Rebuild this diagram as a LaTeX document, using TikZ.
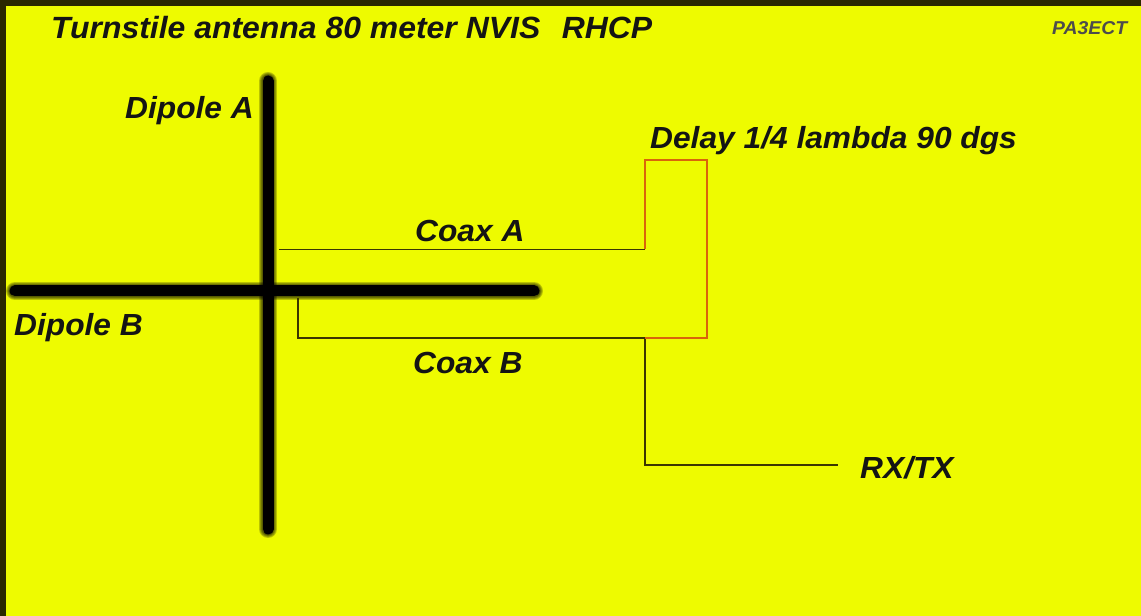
\documentclass[tikz,border=0pt]{standalone}
\usepackage{fontspec}
\setmainfont[FakeStretch=1.04]{Liberation Sans}
\usetikzlibrary{positioning}
\definecolor{frame}{HTML}{2B2800}
\definecolor{board}{HTML}{EEFB00}
\definecolor{delayline}{HTML}{D9650A}
\definecolor{coaxline}{HTML}{3A3500}
\tikzstyle{label}=[inner sep=0,font=\fontsize{30.5}{32}\selectfont\bfseries\itshape,text=black!92]
\tikzstyle{dipole}=[line width=11,line cap=round,black]
\tikzstyle{dipoleblur}=[line cap=round,black,opacity=.22]
\tikzstyle{coax}=[line width=1.5,coaxline]
\tikzstyle{delay}=[line width=1.8,delayline,line join=miter]

\begin{document}
\begin{tikzpicture}[x=1pt,y=1pt]
	\useasboundingbox (0,0) rectangle (1141,616);
	\fill[frame] (0,0) rectangle (1141,616);
	\fill[board] (6,0) rectangle (1141,610);

	% antenna
	\coordinate (topA) at (268,535);
	\coordinate (botA) at (268,87);
	\coordinate (leftB) at (15,325);
	\coordinate (rightB) at (534,325);
	\foreach \w in {18,16,14,12.5}{
		\draw[dipoleblur,line width=\w] (topA) -- (botA);
		\draw[dipoleblur,line width=\w] (leftB) -- (rightB);
	}
	\draw[dipole] (topA) -- (botA);
	\draw[dipole] (leftB) -- (rightB);

	% feed points and junctions
	\coordinate (feedA) at (279,366.5);
	\coordinate (feedB) at (298,318);
	\coordinate (jointA) at (645,366.5);
	\coordinate (jointB) at (645,278);
	\coordinate (delayTL) at (645,456);
	\coordinate (delayTR) at (707,456);
	\coordinate (delayBR) at (707,278);
	\coordinate (rigEnd) at (838,151);

	\draw[coax] (feedA) -- (jointA);
	\draw[coax] (feedB) |- (jointB);
	\draw[coax] (jointB) |- (rigEnd);
	\draw[delay] (jointA) -- (delayTL) -- (delayTR) -- (delayBR) -- (jointB);

	% texts
	\node[label,anchor=base west,font=\fontsize{30.7}{32}\selectfont\bfseries\itshape] (title) at (51,577) {Turnstile antenna 80 meter NVIS\hspace{.7em}RHCP};
	\node[label,anchor=base west,font=\fontsize{18.6}{20}\selectfont\bfseries\itshape,text=black!70] (call) at (1052,581) {PA3ECT};
	\node[label,anchor=base east] (dipoleA) at (254,497) {Dipole A};
	\node[label,anchor=base west] (dipoleB) at (14,280) {Dipole B};
	\node[label,anchor=base west] (coaxA) at (415,374) {Coax A};
	\node[label,anchor=base west] (coaxB) at (413,242) {Coax B};
	\node[label,anchor=base west] (delaytext) at (650,467) {Delay 1/4 lambda 90 dgs};
	\node[label,anchor=west,yshift=-3] (rig) [right=22 of rigEnd] {RX/TX};
\end{tikzpicture}
\end{document}
